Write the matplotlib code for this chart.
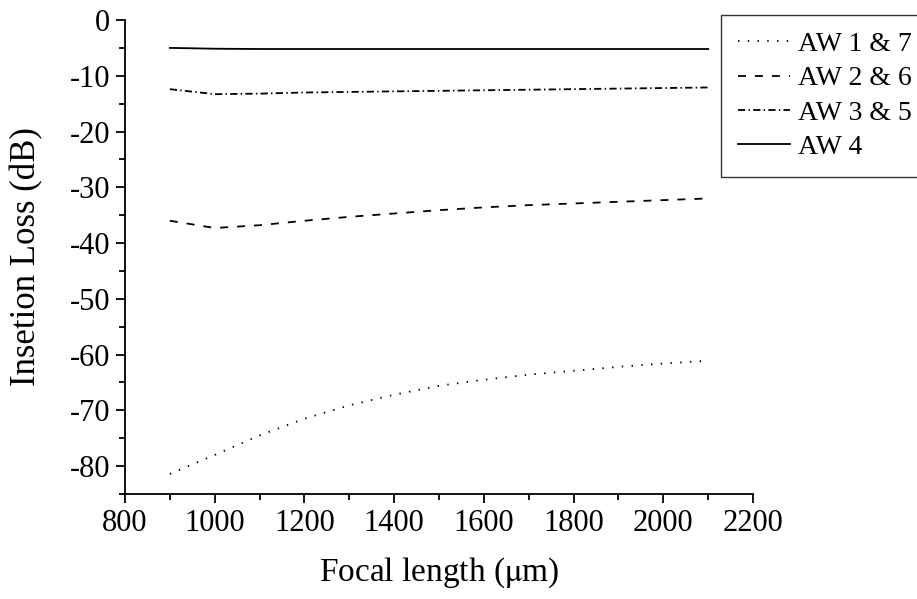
import matplotlib
matplotlib.use("Agg")
import matplotlib.pyplot as plt
from matplotlib.ticker import MultipleLocator

plt.rcParams['font.family'] = ['Liberation Serif', 'DejaVu Serif']
plt.rcParams['mathtext.fontset'] = 'stix'
plt.rcParams['axes.unicode_minus'] = False

focal = [900, 1000, 1100, 1200, 1300, 1400, 1500, 1600, 1700, 1800, 1900, 2000, 2100]
aw17 = [-81.4, -78.0, -74.5, -71.5, -69.1, -67.2, -65.6, -64.5, -63.6, -62.9, -62.2, -61.6, -61.1]
aw26 = [-36.0, -37.3, -36.8, -36.0, -35.3, -34.7, -34.1, -33.6, -33.2, -32.9, -32.6, -32.3, -32.0]
aw35 = [-12.4, -13.3, -13.2, -13.0, -12.9, -12.8, -12.7, -12.6, -12.5, -12.4, -12.3, -12.2, -12.1]
aw4 = [-5.0, -5.15, -5.2, -5.2, -5.2, -5.2, -5.2, -5.2, -5.2, -5.2, -5.2, -5.2, -5.2]

fig = plt.figure(figsize=(9.17, 5.99), dpi=100)
ax = fig.add_axes([0.1363, 0.1753, 0.6849, 0.7913])

lw = 1.3
ax.plot(focal, aw17, color='black', lw=lw, linestyle=(0, (0.8, 4.6)), label='AW 1 & 7')
ax.plot(focal, aw26, color='black', lw=lw, linestyle=(0, (4.4, 5.0)), label='AW 2 & 6')
ax.plot(focal, aw35, color='black', lw=lw, linestyle=(0, (4.0, 1.8, 0.8, 1.8)), label='AW 3 & 5')
ax.plot(focal, aw4, color='black', lw=lw, linestyle='-', label='AW 4')

ax.set_xlim(800, 2200)
ax.set_ylim(-85, 0)
ax.xaxis.set_major_locator(MultipleLocator(200))
ax.xaxis.set_minor_locator(MultipleLocator(100))
ax.yaxis.set_major_locator(MultipleLocator(10))
ax.yaxis.set_minor_locator(MultipleLocator(5))

for s in ['top', 'right']:
    ax.spines[s].set_visible(False)
for s in ['left', 'bottom']:
    ax.spines[s].set_linewidth(1.3)

ax.tick_params(which='major', direction='out', length=6.5, width=1.3, labelsize=22, pad=4)
ax.tick_params(which='minor', direction='out', length=4, width=1.3)

ax.set_xlabel('Focal length ($\\mathrm{\\mu}$m)', fontsize=24)
ax.set_ylabel('Insetion Loss (dB)', fontsize=25)
ax.xaxis.set_label_coords(0.5, -0.13)
ax.yaxis.set_label_coords(-0.13, 0.5)

leg = fig.legend(loc='upper left', bbox_to_anchor=(721 / 917, 1 - 15 / 599),
                 fontsize=20, frameon=True, fancybox=False, handlelength=1.87,
                 handletextpad=0.3, labelspacing=0.32, borderpad=0.6, borderaxespad=0)
leg.get_frame().set_edgecolor('black')
leg.get_frame().set_linewidth(1.0)

fig.savefig('out.png', dpi=100)
